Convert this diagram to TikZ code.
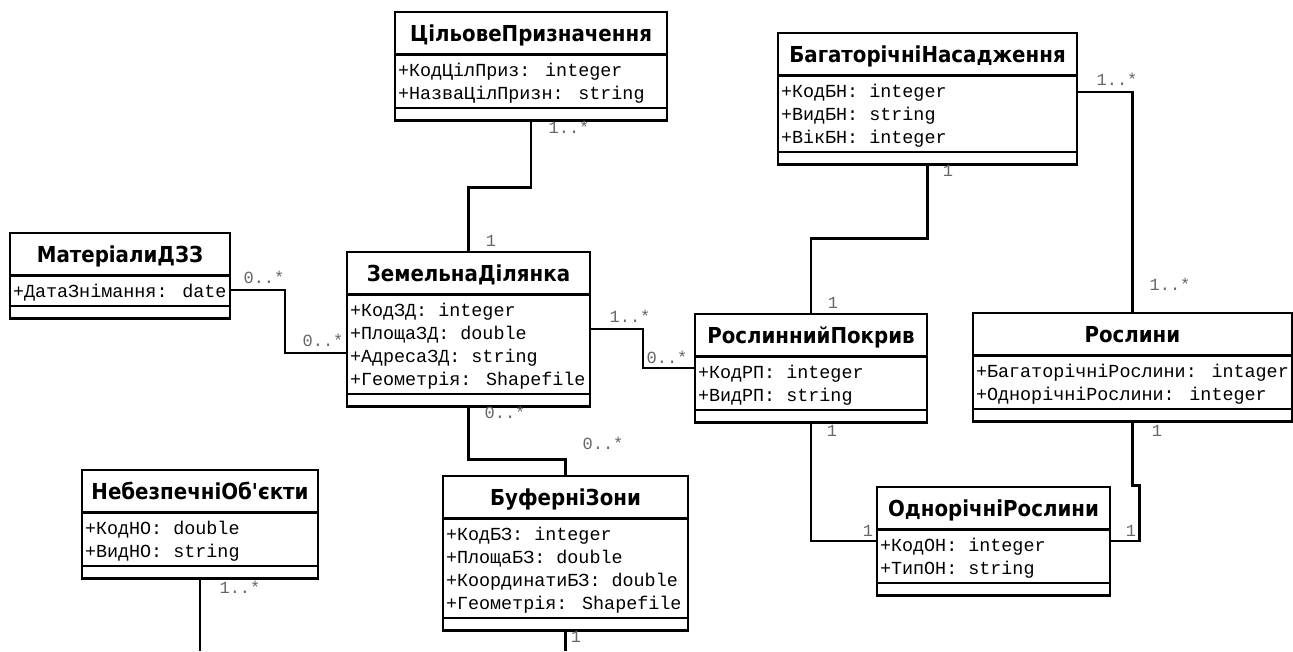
\documentclass[tikz,border=0pt]{standalone}
\usepackage{fontspec}
\setmainfont{DejaVu Sans}
\newfontfamily\clsfont{DejaVu Sans Condensed}
\newfontfamily\attrfont{Liberation Mono}
\usetikzlibrary{shapes.multipart, positioning}

\renewcommand{\arraystretch}{0}
\newcommand{\rw}{\rule[-7pt]{0pt}{23pt}}
\newcommand{\rwtop}{\rule[-7pt]{0pt}{28pt}}
\newcommand{\ttl}[1]{\clsfont\bfseries\fontsize{22}{26}\selectfont\rule[-12pt]{0pt}{40pt}#1}
\newcommand{\attrs}[1]{\attrfont\fontsize{18.4}{23}\selectfont\begin{tabular}{@{}l@{}}#1\end{tabular}}
\newcommand{\foot}{\rule{0pt}{10pt}}

\begin{document}
\begin{tikzpicture}[x=1pt, y=-1pt,
    umlclass/.style={rectangle split, rectangle split parts=3, draw=black, line width=2.5pt,
        anchor=north west, inner xsep=3pt, inner ysep=0pt, outer sep=0pt,
        rectangle split part align={center, left, left}, text=black},
    link/.style={draw=black, line width=2.4pt},
    mult/.style={font=\attrfont\fontsize{17}{17}\selectfont, text=black!60, inner sep=0pt}
]
\fill[white] (0,0) rectangle (1293,651);
\useasboundingbox (0,0) rectangle (1293,651);

% classes
\node (cp) [umlclass, minimum width=272pt] at (395,12)
    {\ttl{ЦільовеПризначення}
     \nodepart{two}\attrs{\rwtop+КодЦілПриз: integer\\ \rw+НазваЦілПризн: string}
     \nodepart{three}\foot};
\node (bn) [umlclass, minimum width=299pt] at (778,33)
    {\ttl{БагаторічніНасадження}
     \nodepart{two}\attrs{\rwtop+КодБН: integer\\ \rw+ВидБН: string\\ \rw+ВікБН: integer}
     \nodepart{three}\foot};
\node (mdzz) [umlclass, minimum width=220pt] at (10,233)
    {\ttl{МатеріалиДЗЗ}
     \nodepart{two}\attrs{\rwtop+ДатаЗнімання: date}
     \nodepart{three}\foot};
\node (zd) [umlclass, minimum width=243pt] at (347,252)
    {\ttl{ЗемельнаДілянка}
     \nodepart{two}\attrs{\rwtop+КодЗД: integer\\ \rw+ПлощаЗД: double\\ \rw+АдресаЗД: string\\ \rw+Геометрія: Shapefile}
     \nodepart{three}\foot};
\node (rp) [umlclass, minimum width=232pt] at (695,314)
    {\ttl{РослиннийПокрив}
     \nodepart{two}\attrs{\rwtop+КодРП: integer\\ \rw+ВидРП: string}
     \nodepart{three}\foot};
\node (ro) [umlclass, minimum width=317pt] at (973,313)
    {\ttl{Рослини}
     \nodepart{two}\attrs{\rwtop+БагаторічніРослини: intager\\ \rw+ОднорічніРослини: integer}
     \nodepart{three}\foot};
\node (bz) [umlclass, minimum width=245pt] at (443,476)
    {\ttl{БуферніЗони}
     \nodepart{two}\attrs{\rwtop+КодБЗ: integer\\ \rw+ПлощаБЗ: double\\ \rw+КоординатиБЗ: double\\ \rw+Геометрія: Shapefile}
     \nodepart{three}\foot};
\node (no) [umlclass, minimum width=236pt] at (82,470)
    {\ttl{НебезпечніОб'єкти}
     \nodepart{two}\attrs{\rwtop+КодНО: double\\ \rw+ВидНО: string}
     \nodepart{three}\foot};
\node (or) [umlclass, minimum width=233pt] at (877,487)
    {\ttl{ОднорічніРослини}
     \nodepart{two}\attrs{\rwtop+КодОН: integer\\ \rw+ТипОН: string}
     \nodepart{three}\foot};

\coordinate (noEnd) at (200,651);
\coordinate (bzEnd) at (565.5,651);

% associations
\draw [link] (cp.south) -- ++(0,67) -| (zd.north);
\draw [link] (bn.south) -- ++(0,74) -| (rp.north);
\draw [link] ([yshift=7pt]bn.east) -| (ro.north);
\draw [link] ([yshift=-14pt]mdzz.east) -- ++(55,0) |- ([yshift=-24pt]zd.west);
\draw [link] (zd.east) -- ++(53,0) |- (rp.west);
\draw [link] (zd.south) -- ++(0,53) -| (bz.north);
\draw [link] (rp.south) |- (or.west);
\draw [link] (ro.south) -- ++(0,64) -- ++(7,0) |- (or.east);
\draw [link] (no.south) -- (noEnd);
\draw [link] (bz.south) -- (bzEnd);

% multiplicities
\node (m1) [mult] at (569,127) {1..*};
\node (m2) [mult] at (491,241) {1};
\node (m3) [mult] at (948,171) {1};
\node (m4) [mult] at (1117,79) {1..*};
\node (m5) [mult] at (1170,284) {1..*};
\node (m6) [mult] at (833,303) {1};
\node (m7) [mult] at (264,277) {0..*};
\node (m8) [mult] at (323,340) {0..*};
\node (m9) [mult] at (630,316) {1..*};
\node (m10) [mult] at (667,357) {0..*};
\node (m11) [mult] at (505,412) {0..*};
\node (m12) [mult] at (603,443) {0..*};
\node (m13) [mult] at (576,637) {1};
\node (m14) [mult] at (240,587) {1..*};
\node (m15) [mult] at (832,431) {1};
\node (m16) [mult] at (868,531) {1};
\node (m17) [mult] at (1157,431) {1};
\node (m18) [mult] at (1131,531) {1};
\end{tikzpicture}
\end{document}
